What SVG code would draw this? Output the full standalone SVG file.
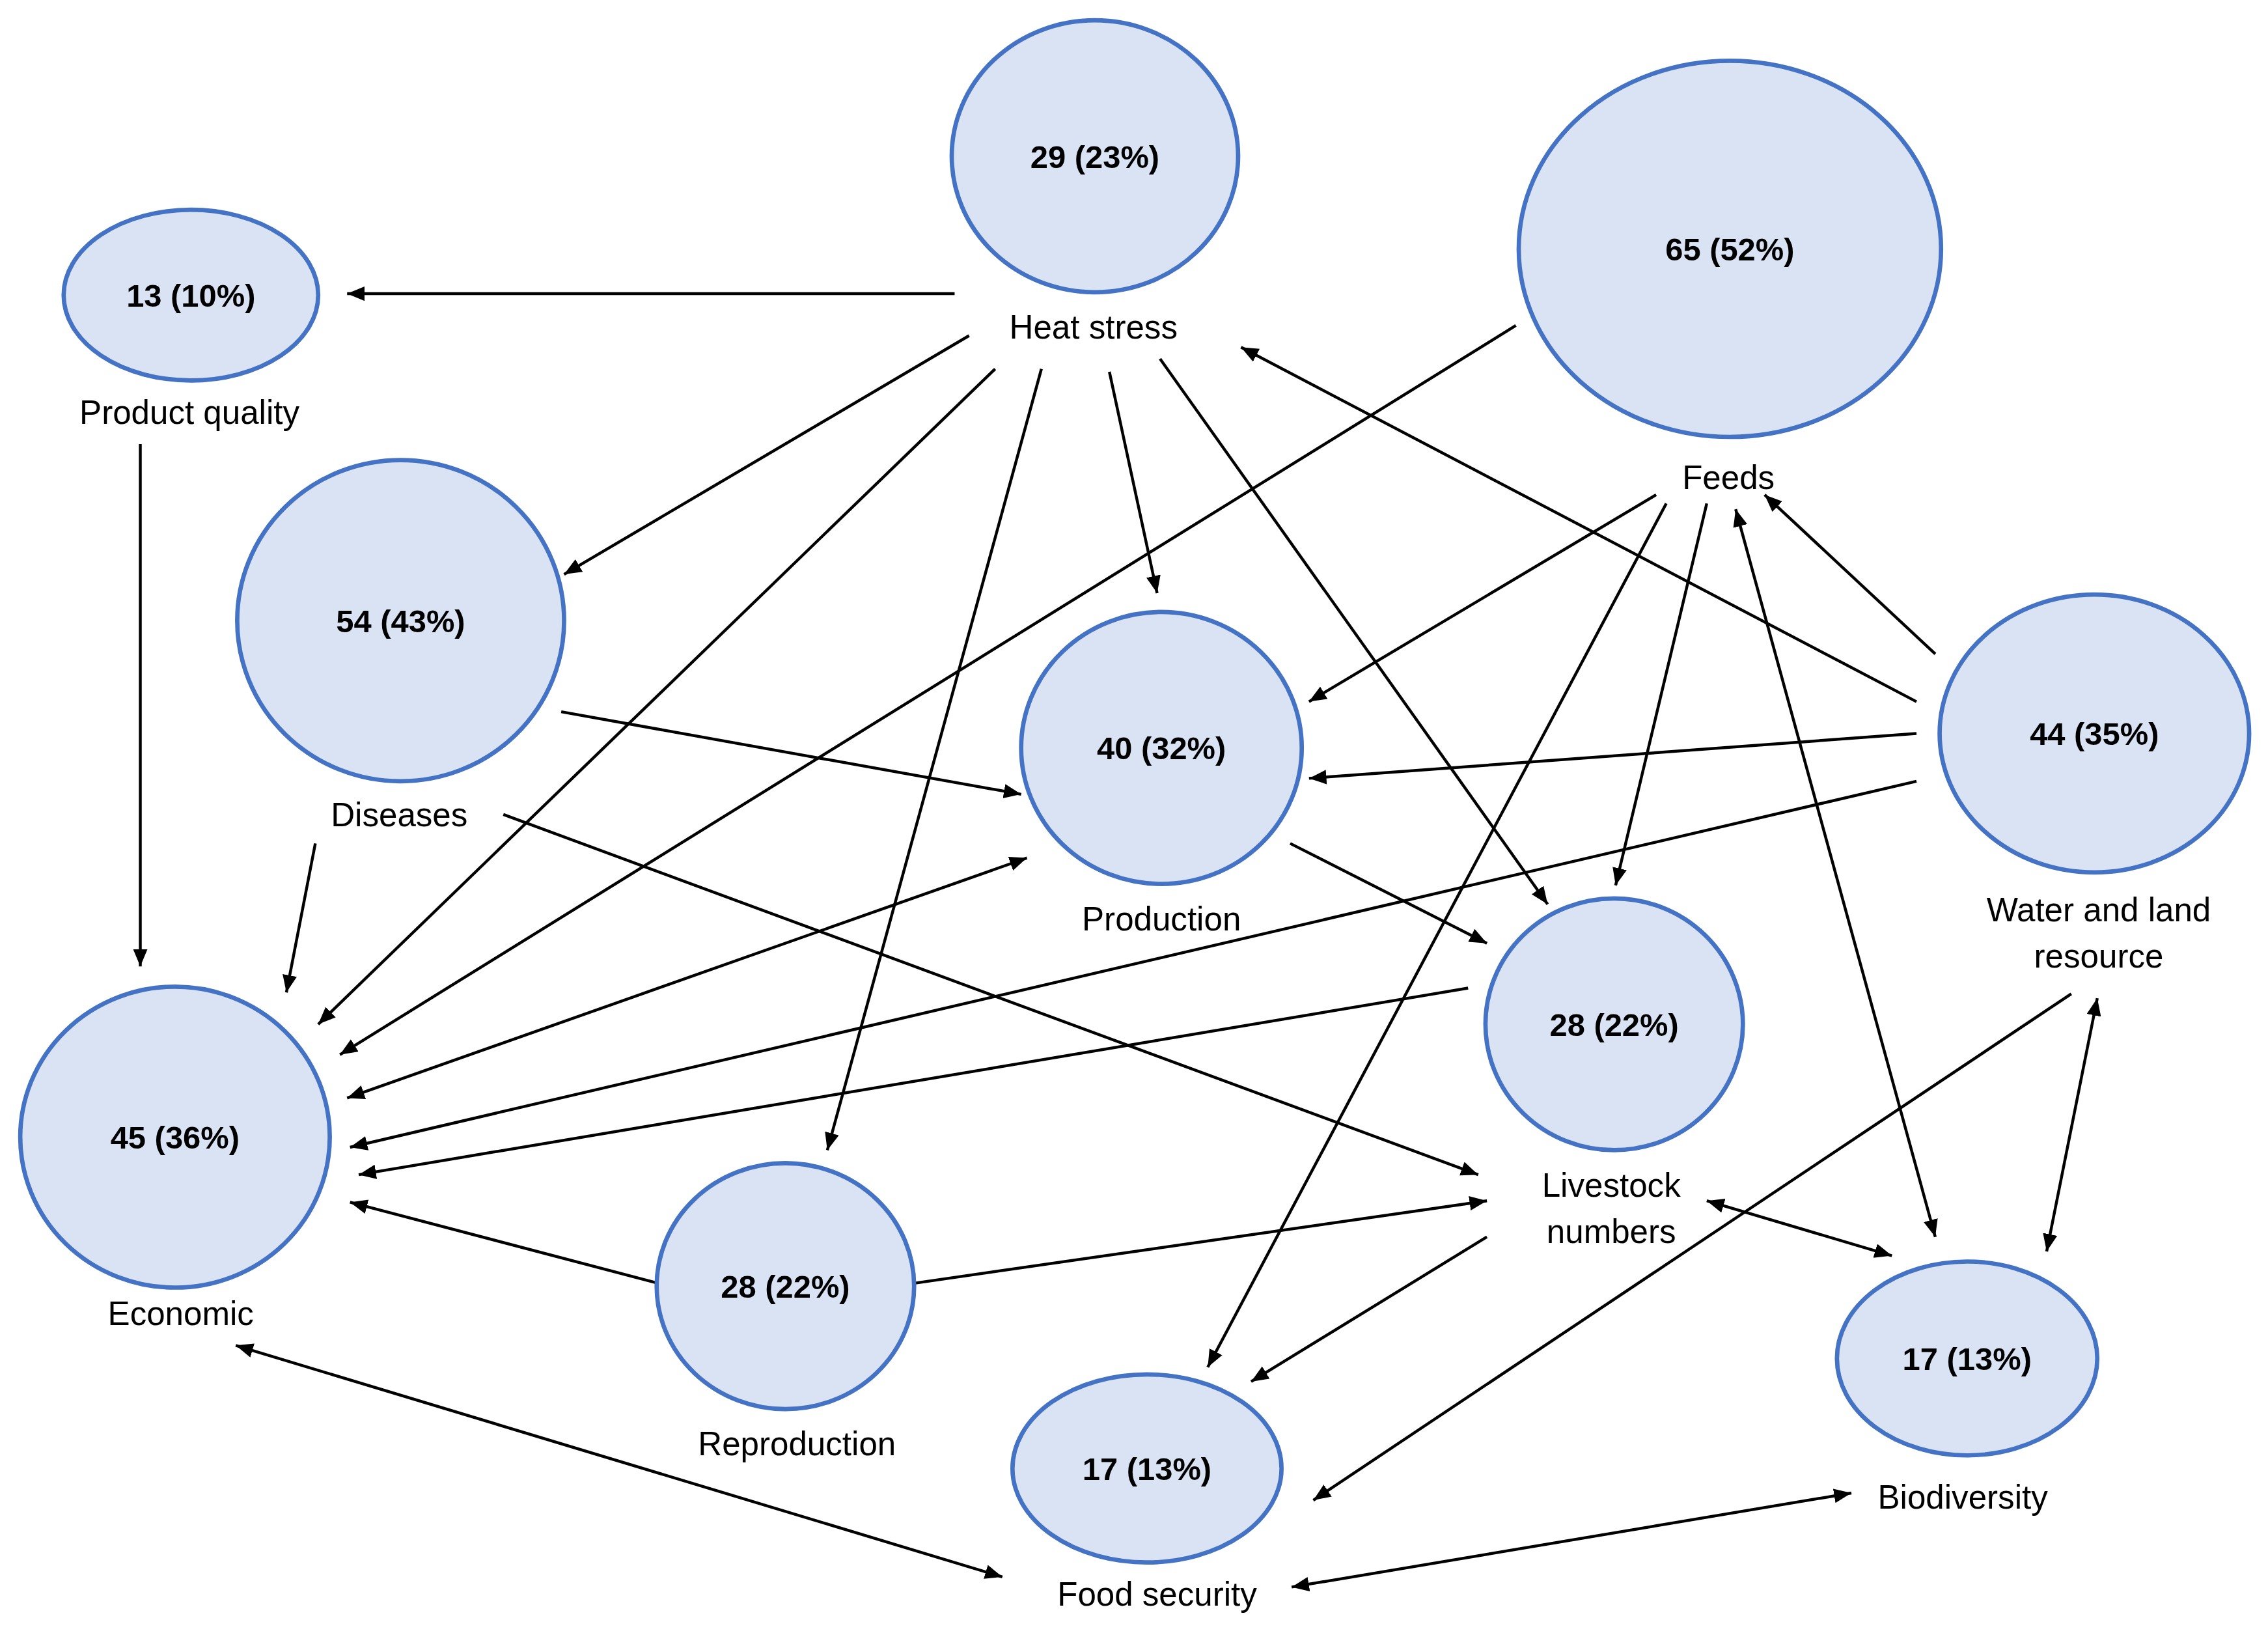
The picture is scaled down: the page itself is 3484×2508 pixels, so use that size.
<svg xmlns="http://www.w3.org/2000/svg" width="3484" height="2508" viewBox="0 0 3484 2508">
<style>
.n{fill:#dae3f3;stroke:#4472c4;stroke-width:3}
.v{font-family:"Liberation Sans",Arial,sans-serif;font-weight:bold;font-size:22px;text-anchor:middle;fill:#000}
.l{font-family:"Liberation Sans",Arial,sans-serif;font-size:23px;text-anchor:middle;fill:#000}
.c line{stroke:#000;stroke-width:2}
</style>
<defs>
<marker id="a" markerUnits="userSpaceOnUse" markerWidth="13" markerHeight="11" refX="12" refY="5" orient="auto-start-reverse" viewBox="0 0 13 11"><path d="M0,0 L12,5 L0,10 z" fill="#000"/></marker>
</defs>
<rect width="3484" height="2508" fill="#fff"/>
<g transform="scale(2.2219)">
<g class="c" id="connectors">
<line x1="660" y1="203" x2="240" y2="203" marker-end="url(#a)"/>
<line x1="670" y1="232" x2="390" y2="397" marker-end="url(#a)"/>
<line x1="688" y1="255" x2="220" y2="708" marker-end="url(#a)"/>
<line x1="720" y1="255" x2="572" y2="795" marker-end="url(#a)"/>
<line x1="767" y1="257" x2="800" y2="410" marker-end="url(#a)"/>
<line x1="802" y1="248" x2="1070" y2="625" marker-end="url(#a)"/>
<line x1="1048" y1="225" x2="235" y2="729" marker-end="url(#a)"/>
<line x1="1145" y1="342" x2="905" y2="485" marker-end="url(#a)"/>
<line x1="1152" y1="348" x2="835" y2="945" marker-end="url(#a)"/>
<line x1="1180" y1="348" x2="1117" y2="612" marker-end="url(#a)"/>
<line x1="1200" y1="352" x2="1338" y2="855" marker-start="url(#a)" marker-end="url(#a)"/>
<line x1="1338" y1="452" x2="1220" y2="342" marker-end="url(#a)"/>
<line x1="1325" y1="485" x2="858" y2="240" marker-end="url(#a)"/>
<line x1="1325" y1="507" x2="905" y2="538" marker-end="url(#a)"/>
<line x1="1325" y1="540" x2="242" y2="793" marker-end="url(#a)"/>
<line x1="1432" y1="687" x2="908" y2="1037" marker-end="url(#a)"/>
<line x1="1450" y1="690" x2="1415" y2="865" marker-start="url(#a)" marker-end="url(#a)"/>
<line x1="97" y1="307" x2="97" y2="668" marker-end="url(#a)"/>
<line x1="218" y1="583" x2="198" y2="686" marker-end="url(#a)"/>
<line x1="388" y1="492" x2="706" y2="549" marker-end="url(#a)"/>
<line x1="348" y1="563" x2="1022" y2="812" marker-end="url(#a)"/>
<line x1="710" y1="593" x2="240" y2="759" marker-start="url(#a)" marker-end="url(#a)"/>
<line x1="892" y1="583" x2="1028" y2="652" marker-end="url(#a)"/>
<line x1="1015" y1="683" x2="248" y2="812" marker-end="url(#a)"/>
<line x1="455" y1="887" x2="242" y2="831" marker-end="url(#a)"/>
<line x1="632" y1="887" x2="1028" y2="830" marker-end="url(#a)"/>
<line x1="1180" y1="830" x2="1308" y2="868" marker-start="url(#a)" marker-end="url(#a)"/>
<line x1="1028" y1="855" x2="865" y2="955" marker-end="url(#a)"/>
<line x1="163" y1="930" x2="693" y2="1090" marker-start="url(#a)" marker-end="url(#a)"/>
<line x1="893" y1="1097" x2="1280" y2="1032" marker-start="url(#a)" marker-end="url(#a)"/>
</g>
<g id="heat"><ellipse class="n" cx="757" cy="108" rx="99" ry="94"/><text class="v" x="757" y="116">29 (23%)</text><text class="l" x="756" y="234">Heat stress</text></g>
<g id="quality"><ellipse class="n" cx="132" cy="204" rx="88" ry="59"/><text class="v" x="132" y="212">13 (10%)</text><text class="l" x="131" y="293">Product quality</text></g>
<g id="feeds"><ellipse class="n" cx="1196" cy="172" rx="146" ry="130"/><text class="v" x="1196" y="180">65 (52%)</text><text class="l" x="1195" y="338">Feeds</text></g>
<g id="diseases"><ellipse class="n" cx="277" cy="429" rx="113" ry="111"/><text class="v" x="277" y="437">54 (43%)</text><text class="l" x="276" y="571">Diseases</text></g>
<g id="production"><ellipse class="n" cx="803" cy="517" rx="97" ry="94"/><text class="v" x="803" y="525">40 (32%)</text><text class="l" x="803" y="643">Production</text></g>
<g id="water"><ellipse class="n" cx="1448" cy="507" rx="107" ry="96"/><text class="v" x="1448" y="515">44 (35%)</text><text class="l" x="1451" y="637">Water and land</text><text class="l" x="1451" y="669">resource</text></g>
<g id="economic"><ellipse class="n" cx="121" cy="786" rx="107" ry="104"/><text class="v" x="121" y="794">45 (36%)</text><text class="l" x="125" y="916">Economic</text></g>
<g id="livestock"><ellipse class="n" cx="1116" cy="708" rx="89" ry="87"/><text class="v" x="1116" y="716">28 (22%)</text><text class="l" x="1114" y="827">Livestock</text><text class="l" x="1114" y="859">numbers</text></g>
<g id="reproduction"><ellipse class="n" cx="543" cy="889" rx="89" ry="85"/><text class="v" x="543" y="897">28 (22%)</text><text class="l" x="551" y="1006">Reproduction</text></g>
<g id="biodiversity"><ellipse class="n" cx="1360" cy="939" rx="90" ry="67"/><text class="v" x="1360" y="947">17 (13%)</text><text class="l" x="1357" y="1043">Biodiversity</text></g>
<g id="food"><ellipse class="n" cx="793" cy="1015" rx="93" ry="65"/><text class="v" x="793" y="1023">17 (13%)</text><text class="l" x="800" y="1110">Food security</text></g>
</g>
</svg>
